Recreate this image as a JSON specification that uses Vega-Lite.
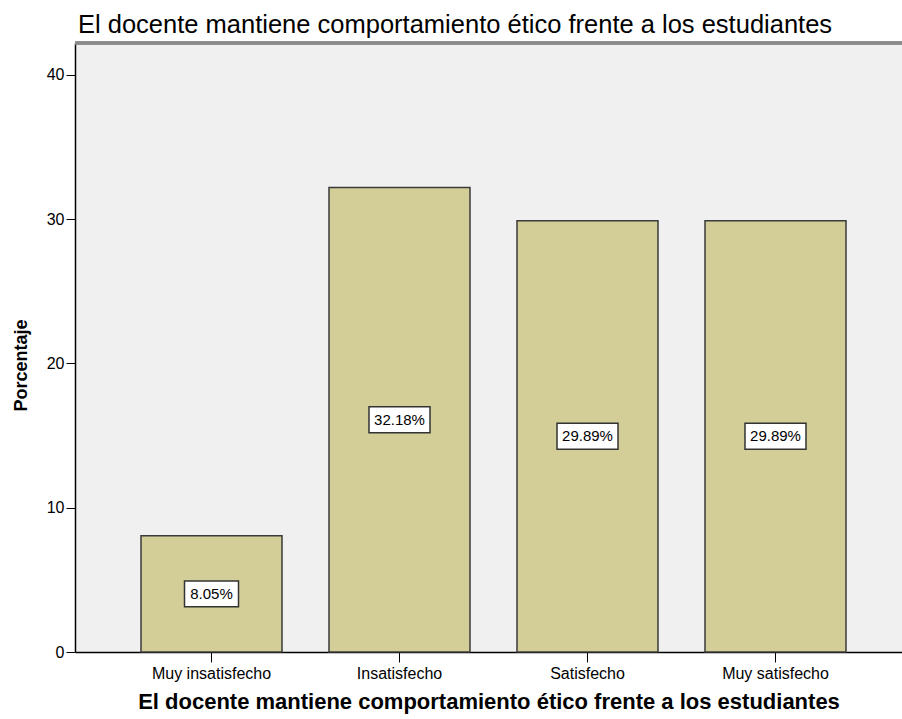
{
  "$schema": "https://vega.github.io/schema/vega-lite/v6.json",
  "width": 827,
  "height": 609,
  "autosize": {"type": "none"},
  "padding": {"left": 75, "top": 43, "right": 0, "bottom": 67},
  "background": "white",
  "config": {
    "view": {"stroke": null, "fill": "#f0f0f0"},
    "font": "Liberation Sans"
  },
  "title": {
    "text": "El docente mantiene comportamiento ético frente a los estudiantes",
    "anchor": "start",
    "frame": "group",
    "baseline": "alphabetic",
    "offset": 14,
    "dy": 31,
    "dx": 3,
    "fontSize": 25.5,
    "fontWeight": "normal",
    "font": "Liberation Sans",
    "color": "#000000"
  },
  "data": {
    "values": [
      {"categoria": "Muy insatisfecho", "pct": 8.05, "label": "8.05%"},
      {"categoria": "Insatisfecho", "pct": 32.18, "label": "32.18%"},
      {"categoria": "Satisfecho", "pct": 29.89, "label": "29.89%"},
      {"categoria": "Muy satisfecho", "pct": 29.89, "label": "29.89%"}
    ]
  },
  "layer": [
    {
      "mark": {"type": "bar", "fill": "#d3ce97", "stroke": "#3a3a3a", "strokeWidth": 1.5},
      "encoding": {
        "x": {
          "field": "categoria",
          "type": "nominal",
          "sort": null,
          "scale": {"paddingInner": 0.25, "paddingOuter": 0.3245, "align": 0.541},
          "axis": {
            "title": "El docente mantiene comportamiento ético frente a los estudiantes",
            "titleFontSize": 22,
            "titleFontWeight": "bold",
            "titleColor": "#000000",
            "titlePadding": 10,
            "labelAngle": 0,
            "labelFontSize": 16,
            "labelColor": "#000000",
            "labelPadding": 3,
            "tickSize": 10,
            "tickColor": "#000000",
            "domainColor": "#000000",
            "domainWidth": 1.5
          }
        },
        "y": {
          "field": "pct",
          "type": "quantitative",
          "scale": {"domain": [0, 42.2], "nice": false},
          "axis": {
            "title": "Porcentaje",
            "titleFontSize": 18,
            "titleFontWeight": "bold",
            "titleColor": "#000000",
            "titlePadding": 16,
            "titleY": 322,
            "values": [0, 10, 20, 30, 40],
            "grid": false,
            "labelFontSize": 16,
            "labelColor": "#000000",
            "labelPadding": 2,
            "tickSize": 9,
            "tickColor": "#000000",
            "domainColor": "#000000",
            "domainWidth": 1.5
          }
        }
      }
    },
    {
      "mark": {"type": "rule", "stroke": "#8a8a8a", "strokeWidth": 3},
      "encoding": {
        "y": {"datum": 42.2, "scale": {"domain": [0, 42.2], "nice": false}, "axis": null}
      }
    },
    {
      "mark": {"type": "point", "filled": true, "fill": "white", "stroke": "#333333", "strokeWidth": 1.5, "opacity": 1},
      "encoding": {
        "x": {"field": "categoria", "type": "nominal", "sort": null},
        "y": {"field": "pct", "type": "quantitative", "scale": {"domain": [0, 84.4], "nice": false}, "axis": null},
        "shape": {
          "condition": {"test": "datum.pct < 10", "value": "M-1,-0.48L1,-0.48L1,0.48L-1,0.48Z"},
          "value": "M-1,-0.426L1,-0.426L1,0.426L-1,0.426Z"
        },
        "size": {
          "condition": {"test": "datum.pct < 10", "value": 2916},
          "value": 3721
        }
      }
    },
    {
      "mark": {"type": "text", "fontSize": 15, "color": "#000000", "font": "Liberation Sans", "baseline": "middle"},
      "encoding": {
        "x": {"field": "categoria", "type": "nominal", "sort": null},
        "y": {"field": "pct", "type": "quantitative", "scale": {"domain": [0, 84.4], "nice": false}, "axis": null},
        "text": {"field": "label"}
      }
    }
  ],
  "resolve": {"scale": {"y": "independent"}}
}
